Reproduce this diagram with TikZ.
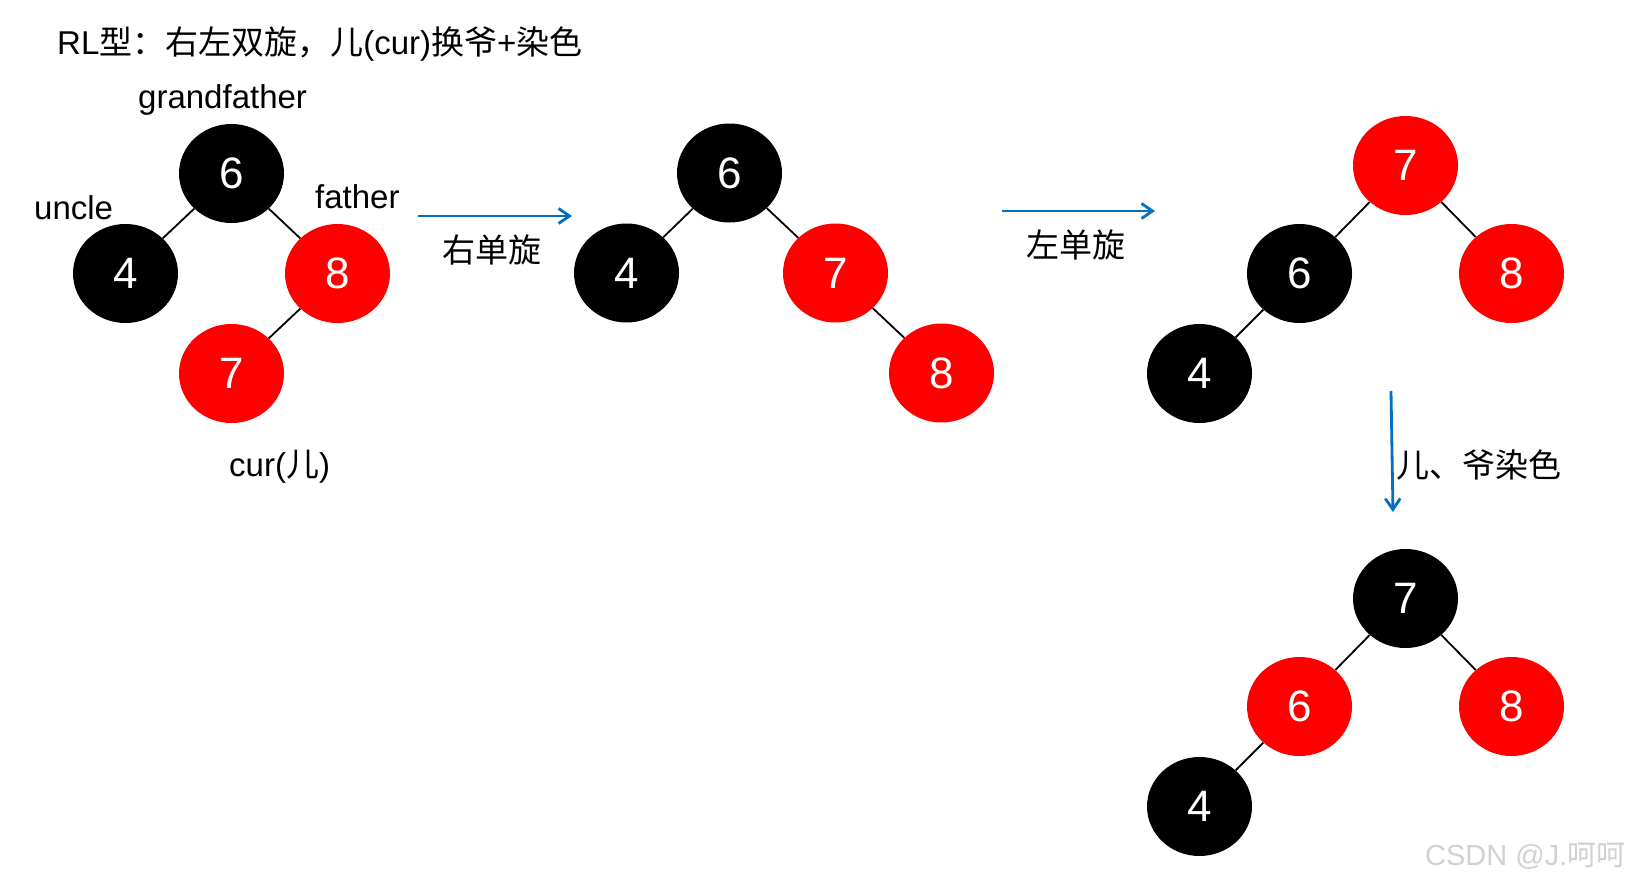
\documentclass[tikz,border=0pt]{standalone}
\usepackage{fontspec}
\setmainfont{Liberation Sans}
\newfontfamily\cjk{Noto Sans CJK SC}
\usepackage{xcolor}
\usetikzlibrary{positioning, arrows.meta, shapes.geometric}
\definecolor{arrowblue}{HTML}{0070C0}

\begin{document}
\begin{tikzpicture}[x=1pt, y=-1pt, on grid, node distance=100pt and 106pt,
  rbnode/.style={ellipse, minimum width=105pt, minimum height=99pt, inner sep=0pt,
    text=white, font=\fontsize{44}{44}\selectfont},
  bnode/.style={rbnode, fill=black},
  rnode/.style={rbnode, fill=red},
  lbl/.style={anchor=base west, inner sep=0pt, font=\fontsize{33}{40}\selectfont},
  rot/.style={draw=arrowblue, line width=2.8pt, -{Straight Barb[length=11pt,width=15pt]}},
  link/.style={line width=1.8pt}]
   \fill[white] (0,0) rectangle (1631,883);
   \useasboundingbox (0,0) rectangle (1631,883);

   % 标题
   \node[lbl] (title) at (57,55) {RL{\cjk 型：右左双旋，儿}(cur){\cjk 换爷}+{\cjk 染色}};

   % 原树：爷、叔、父、儿
   \node[bnode] (g_1) at (231.5,173.5) {6};
   \node[bnode] (u_1) [below left=of g_1] {4};
   \node[rnode] (f_1) [below right=of g_1] {8};
   \node[rnode] (c_1) [below left=of f_1] {7};

   \node[lbl] (gf) at (138,108) {grandfather};
   \node[lbl] (un) at (34,219) {uncle};
   \node[lbl] (fa) at (315,208) {father};
   \node[lbl] (cu) at (229,476) {cur({\cjk 儿})};

   % 右单旋之后
   \node[bnode] (g_2) at (729.5,173) {6};
   \node[bnode] (u_2) [below left=100pt and 103pt of g_2] {4};
   \node[rnode] (c_2) [below right=of g_2] {7};
   \node[rnode] (f_2) [below right=of c_2] {8};

   % 左单旋之后
   \node[rnode] (c_3) at (1405.5,165.5) {7};
   \node[bnode] (g_3) [below left=108pt and 106pt of c_3] {6};
   \node[rnode] (f_3) [below right=108pt and 106pt of c_3] {8};
   \node[bnode] (u_3) [below left=100pt and 100pt of g_3] {4};

   % 染色之后
   \node[bnode] (c_4) at (1405.5,598.5) {7};
   \node[rnode] (g_4) [below left=108pt and 106pt of c_4] {6};
   \node[rnode] (f_4) [below right=108pt and 106pt of c_4] {8};
   \node[bnode] (u_4) [below left=100pt and 100pt of g_4] {4};

   \path[link]
    (g_1) edge (u_1)
    (g_1) edge (f_1)
    (f_1) edge (c_1)
    (g_2) edge (u_2)
    (g_2) edge (c_2)
    (c_2) edge (f_2)
    (c_3) edge (g_3)
    (c_3) edge (f_3)
    (g_3) edge (u_3)
    (c_4) edge (g_4)
    (c_4) edge (f_4)
    (g_4) edge (u_4)
    ;

   % 旋转箭头
   \coordinate (a_1) at (418,216);
   \coordinate (b_1) at (572,216);
   \coordinate (a_2) at (1002,211);
   \coordinate (b_2) at (1155,211);
   \coordinate (a_3) at (1391,391);
   \coordinate (b_3) at (1393,512);
   \draw[rot] (a_1) -- (b_1);
   \draw[rot] (a_2) -- (b_2);
   \draw[rot] (a_3) -- (b_3);

   \node[lbl] (r_1) at (442,262) {\cjk 右单旋};
   \node[lbl] (r_2) at (1026,257) {\cjk 左单旋};
   \node[lbl] (r_3) at (1396,477) {\cjk 儿、爷染色};

   % 水印
   \node[lbl, text=black!18, font=\fontsize{29}{34}\selectfont] (wm) at (1425,865) {CSDN @J.{\cjk 呵呵}};
\end{tikzpicture}
\end{document}
